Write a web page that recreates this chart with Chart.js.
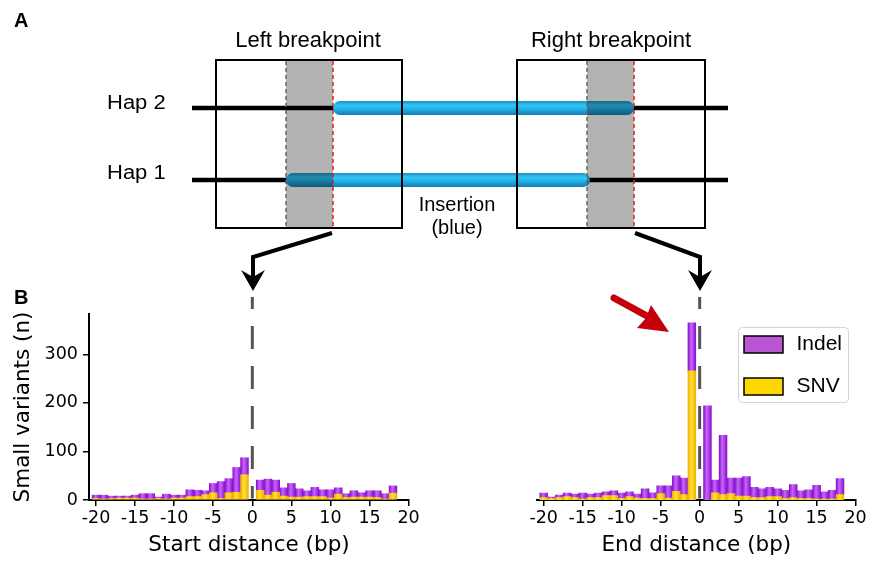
<!DOCTYPE html>
<html><head><meta charset="utf-8">
<script src="https://cdn.jsdelivr.net/npm/chart.js@4.4.0/dist/chart.umd.min.js"></script>
<style>
html,body{margin:0;padding:0;background:#fff;}
body{width:870px;height:561px;position:relative;overflow:hidden;}
canvas{position:absolute;}
#cA{left:0;top:0;}
#cL{left:0;top:285px;}
#cR{left:440px;top:285px;}
</style></head><body>
<canvas id="cA" width="870" height="561"></canvas>
<canvas id="cL" width="430" height="276"></canvas>
<canvas id="cR" width="430" height="276"></canvas>
<script>
// ---------- data ----------
const distances = [-20,-19,-18,-17,-16,-15,-14,-13,-12,-11,-10,-9,-8,-7,-6,-5,-4,-3,-2,-1,1,2,3,4,5,6,7,8,9,10,11,12,13,14,15,16,17,18];
const startSNV   = [3,2,3,4,4,4,2,2,3,2,4,4,7,7,11,15,3,15,16,52, 20,10,16,8,6,6,7,7,7,4,12,5,6,6,6,5,2,14];
const startIndel = [7,8,5,4,4,6,11,11,3,10,6,6,14,13,8,19,35,29,51,35, 21,33,25,17,28,17,12,19,14,17,13,8,13,9,13,14,11,15];
const endSNV     = [5,3,5,7,5,2,5,5,9,9,3,7,4,3,3,13,4,18,11,266, 0,15,11,13,8,8,5,5,7,7,3,5,3,3,2,2,2,11];
const endIndel   = [9,3,5,7,7,12,7,9,8,10,11,10,8,20,12,16,25,32,34,99, 194,26,122,32,37,40,21,18,19,16,17,27,16,18,28,15,18,33];
const yTicks = [0,100,200,300];
const xTicks = [-20,-15,-10,-5,0,5,10,15,20];
const seriesNames = ['SNV','Indel'];
const xTitles = ['Start distance (bp)','End distance (bp)'];
const yTitle = 'Small variants (n)';

const COL = {
  indelEdge:'#8c0fd6', indelMid:'#c56af3', indelLegend:'#ba55d3',
  snvEdge:'#f1b000', snvMid:'#ffe338', snvLegend:'#ffd700'
};

function barFill(edge, mid){
  return (ctx) => {
    const chart = ctx.chart;
    const xs = chart.scales && chart.scales.x;
    if (ctx.type !== 'data' || !xs || !ctx.parsed) return mid;
    const px = xs.getPixelForValue(ctx.parsed.x);
    const w = Math.abs(xs.getPixelForValue(1) - xs.getPixelForValue(0));
    if (!isFinite(px) || !isFinite(w) || w <= 0) return mid;
    const g = chart.ctx.createLinearGradient(px - w/2, 0, px + w/2, 0);
    g.addColorStop(0, edge); g.addColorStop(0.42, mid); g.addColorStop(1, edge);
    return g;
  };
}

function pts(vals){ return distances.map((d,i)=>({x:d, y:vals[i]})); }

// ---------- panel A diagram ----------
const diagram = {
  id:'diagram',
  afterDraw(chart){
    const c = chart.ctx;
    c.save();
    c.fillStyle = '#fff'; c.fillRect(0,0,870,561);
    const yH2 = 108, yH1 = 180;
    const band = [[286,333],[587,634]];
    c.strokeStyle = '#000'; c.lineWidth = 4.5; c.lineCap = 'butt';
    c.beginPath();
    c.moveTo(192,yH2); c.lineTo(336,yH2);
    c.moveTo(630,yH2); c.lineTo(728,yH2);
    c.moveTo(192,yH1); c.lineTo(290,yH1);
    c.moveTo(583,yH1); c.lineTo(728,yH1);
    c.stroke();
    function tube(x1,x2,y){
      const r = 7;
      const g = c.createLinearGradient(0,y-r,0,y+r);
      g.addColorStop(0,'#1b8fc6'); g.addColorStop(0.3,'#33c6f4');
      g.addColorStop(0.55,'#22b6ec'); g.addColorStop(1,'#127bb2');
      c.fillStyle = g;
      c.beginPath(); c.roundRect(x1,y-r,x2-x1,2*r,r); c.fill();
    }
    tube(333,634,yH2);
    tube(286,590,yH1);
    c.globalCompositeOperation = 'multiply';
    c.fillStyle = '#b3b3b3';
    band.forEach(b=>c.fillRect(b[0],60,b[1]-b[0],168));
    c.globalCompositeOperation = 'source-over';
    c.lineWidth = 1.5; c.setLineDash([4,3]);
    band.forEach(b=>{
      c.strokeStyle = '#666'; c.beginPath(); c.moveTo(b[0],61); c.lineTo(b[0],227); c.stroke();
      c.strokeStyle = '#dd2222'; c.beginPath(); c.moveTo(b[1],61); c.lineTo(b[1],227); c.stroke();
    });
    c.setLineDash([]);
    c.strokeStyle = '#000'; c.lineWidth = 2;
    c.strokeRect(216,60,186,168);
    c.strokeRect(517,60,188,168);
    c.fillStyle = '#000';
    c.textBaseline = 'alphabetic';
    c.font = '22px "Liberation Sans", Arial, sans-serif';
    c.textAlign = 'center';
    c.fillText('Left breakpoint', 308, 47);
    c.fillText('Right breakpoint', 611, 47);
    function stretched(txt,x,y,sx){
      c.save(); c.translate(x,y); c.scale(sx,1); c.textAlign='left'; c.fillText(txt,0,0); c.restore();
    }
    c.font = '20px "Liberation Sans", Arial, sans-serif';
    stretched('Hap 2',107,109,1.1);
    stretched('Hap 1',107,179,1.1);
    c.font = '20px "Liberation Sans", Arial, sans-serif';
    c.textAlign = 'center';
    c.fillText('Insertion', 457, 211);
    c.fillText('(blue)', 457, 234);
    c.font = 'bold 20px "Liberation Sans", Arial, sans-serif';
    c.textAlign = 'left';
    c.fillText('A', 14, 27);
    c.fillText('B', 14, 304);
    c.strokeStyle = '#000'; c.lineWidth = 4; c.lineJoin = 'miter';
    function arrow(pts, tipX){
      c.beginPath(); c.moveTo(pts[0][0],pts[0][1]);
      for (let i=1;i<pts.length;i++) c.lineTo(pts[i][0],pts[i][1]);
      c.stroke();
      c.beginPath();
      c.moveTo(tipX,291); c.lineTo(tipX-12,270); c.lineTo(tipX,277); c.lineTo(tipX+12,270); c.closePath();
      c.fillStyle = '#000'; c.fill();
    }
    arrow([[332,233],[253,257],[253,279]],253);
    arrow([[635,233],[700,257],[700,279]],700);
    c.strokeStyle = '#c4000a'; c.lineWidth = 7; c.lineCap = 'round';
    c.beginPath(); c.moveTo(614,298); c.lineTo(647,316); c.stroke();
    c.lineCap = 'butt';
    c.fillStyle = '#c4000a';
    c.beginPath();
    c.moveTo(669,332); c.lineTo(651,305); c.lineTo(646,318); c.lineTo(637,328); c.closePath();
    c.fill();
    c.restore();
  }
};
new Chart(document.getElementById('cA'), {
  type:'scatter', data:{datasets:[]},
  options:{responsive:false, animation:false, devicePixelRatio:1, events:[],
    plugins:{legend:{display:false}, tooltip:{enabled:false}},
    scales:{x:{display:false}, y:{display:false}}},
  plugins:[diagram]
});

// ---------- panel B ----------
const TICKFONT = {family:'"DejaVu Sans", sans-serif', size:17.5};
function deco(xTitle, withYTitle, withLegend){
  return {
    id:'deco',
    afterDraw(chart){
      const c = chart.ctx, a = chart.chartArea, xs = chart.scales.x;
      const x0 = xs.getPixelForValue(0);
      c.save();
      c.strokeStyle = '#555'; c.lineWidth = 3; c.setLineDash([23,17]); c.lineDashOffset = 11;
      c.beginPath(); c.moveTo(x0,12); c.lineTo(x0,a.bottom-1.5); c.stroke();
      c.setLineDash([]);
      c.fillStyle = '#000';
      c.font = '21.5px "DejaVu Sans", sans-serif';
      c.textAlign = 'center'; c.textBaseline = 'middle';
      c.fillText(xTitle,(a.left+a.right)/2,260);
      if (withYTitle){
        c.save(); c.translate(23,(a.top+a.bottom)/2); c.rotate(-Math.PI/2);
        c.fillText(yTitle,0,0); c.restore();
      }
      if (withLegend){
        const lx = 298, ly = 42;
        c.fillStyle = 'rgba(255,255,255,0.85)';
        c.strokeStyle = '#d3d3d3'; c.lineWidth = 1;
        c.beginPath(); c.roundRect(lx+0.5,ly+0.5,110,75,4); c.fill(); c.stroke();
        const items = [
          {label:chart.data.datasets[1].label, color:COL.indelLegend, y:ly+9},
          {label:chart.data.datasets[0].label, color:COL.snvLegend, y:ly+51}
        ];
        c.font = '21px "Liberation Sans", Arial, sans-serif';
        c.textAlign = 'left'; c.textBaseline = 'alphabetic';
        items.forEach(it=>{
          c.fillStyle = it.color; c.fillRect(lx+6,it.y,39,17);
          c.strokeStyle = '#000'; c.lineWidth = 1.5; c.strokeRect(lx+6,it.y,39,17);
          c.fillStyle = '#000'; c.fillText(it.label, lx+58.5, it.y+13.5);
        });
      }
      c.restore();
    }
  };
}

function makeChart(id, snv, indel, xTitle, showY){
  return new Chart(document.getElementById(id), {
    type:'bar',
    data:{datasets:[
      {label:seriesNames[0], data:pts(snv), backgroundColor:barFill(COL.snvEdge,COL.snvMid), borderWidth:0, barPercentage:1, categoryPercentage:1},
      {label:seriesNames[1], data:pts(indel), backgroundColor:barFill(COL.indelEdge,COL.indelMid), borderWidth:0, barPercentage:1, categoryPercentage:1}
    ]},
    options:{
      responsive:false, animation:false, devicePixelRatio:1, events:[],
      layout:{padding: showY ? {top:29,right:21,left:0,bottom:0} : {top:29,right:14,left:7.7,bottom:0}},
      plugins:{legend:{display:false}, tooltip:{enabled:false}},
      scales:{
        x:{type:'linear', stacked:true, offset:false, min:-20.9, max:20.05,
           afterBuildTicks(s){ s.ticks = xTicks.map(v=>({value:v})); },
           afterFit(s){ s.height = 61; },
           ticks:{font:TICKFONT, color:'#000', padding:2, maxRotation:0, autoSkip:false},
           grid:{offset:false, drawOnChartArea:false, tickLength:6, color:'#000', lineWidth:1.5},
           border:{display:true, color:'#000', width:2}},
        y:{type:'linear', stacked:true, min:0, max:383, display:showY,
           afterBuildTicks(s){ s.ticks = yTicks.map(v=>({value:v})); },
           afterFit(s){ s.width = 89; },
           ticks:{font:TICKFONT, color:'#000', padding:5},
           grid:{drawOnChartArea:false, tickLength:6, color:'#000', lineWidth:1.5},
           border:{display:true, color:'#000', width:2}}
      }
    },
    plugins:[deco(xTitle, showY, !showY)]
  });
}
makeChart('cL', startSNV, startIndel, xTitles[0], true);
makeChart('cR', endSNV, endIndel, xTitles[1], false);
</script>
</body></html>
